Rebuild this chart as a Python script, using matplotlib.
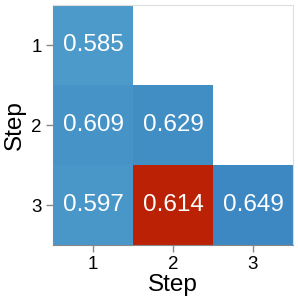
import matplotlib
matplotlib.use("Agg")
import matplotlib.pyplot as plt
import numpy as np
from matplotlib.colors import LinearSegmentedColormap, Normalize

plt.rcParams['font.family'] = ['Liberation Sans', 'DejaVu Sans']

steps = [1, 2, 3]
# rows = y step, cols = x step; NaN = empty
values = [
    [0.585, np.nan, np.nan],
    [0.609, 0.629, np.nan],
    [0.597, 0.614, 0.649],
]
highlight = (2, 1)  # (row, col) of highlighted cell

fig = plt.figure(figsize=(2.98, 3.06), dpi=100)
ax = fig.add_axes([53/298, 61/306, 240/298, 240/306])

cmap = LinearSegmentedColormap.from_list("b", ["#4b9aca", "#3d88c2"])
norm = Normalize(vmin=0.585, vmax=0.649)

for r in range(3):
    for c in range(3):
        v = values[r][c]
        if np.isnan(v):
            continue
        col = "#bb2205" if (r, c) == highlight else cmap(norm(v))
        ax.add_patch(plt.Rectangle((c - 0.5, r - 0.5), 1, 1, color=col, lw=0))
        ax.text(c, r, f"{v:.3f}", ha="center", va="center", color="white", fontsize=17.5)

ax.set_xlim(-0.5, 2.5)
ax.set_ylim(2.5, -0.5)
ax.set_xticks(range(3))
ax.set_yticks(range(3))
ax.set_xticklabels([str(s) for s in steps], fontsize=13.5)
ax.set_yticklabels([str(s) for s in steps], fontsize=13.5)
ax.set_xlabel("Step", fontsize=17.5, labelpad=1)
ax.set_ylabel("Step", fontsize=17.5, labelpad=4)
ax.tick_params(length=5, color="#888888", width=1, pad=3)
for s in ["left", "bottom"]:
    ax.spines[s].set_color("#888888")
for s in ["top", "right"]:
    ax.spines[s].set_color("#dddddd")

fig.savefig("out.png", dpi=100)
